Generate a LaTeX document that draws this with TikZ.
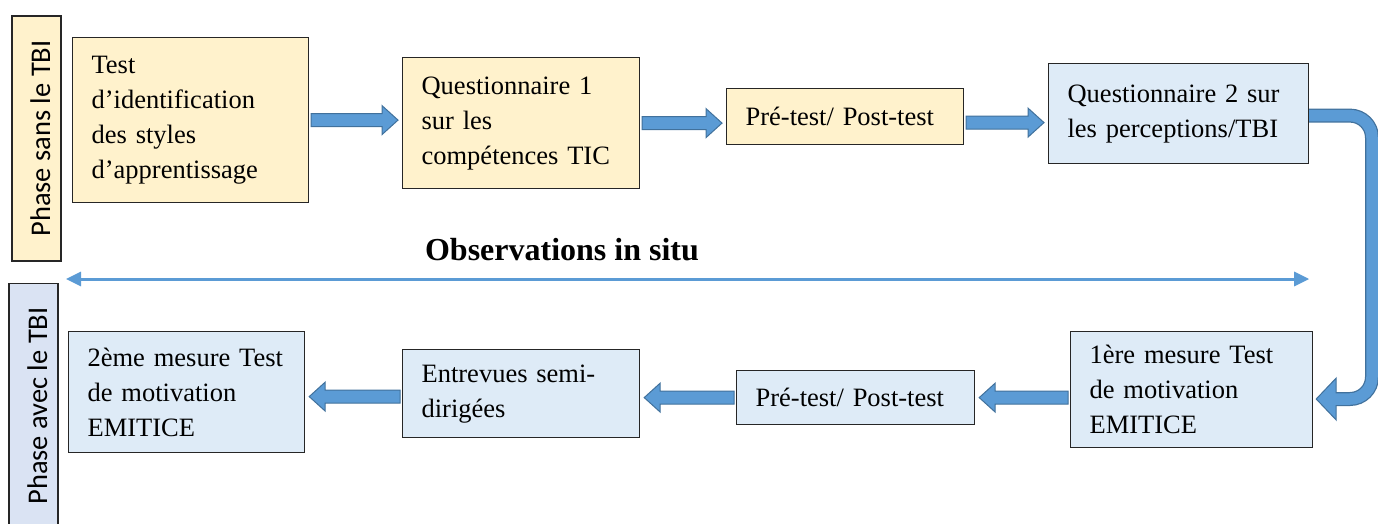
\documentclass[tikz,border=0pt]{standalone}
\usepackage{fontspec}
\setmainfont{Liberation Serif}
\newfontfamily\calibri{Carlito}
\usepackage{tikz}
\usetikzlibrary{arrows.meta}
\usetikzlibrary{calc}
\definecolor{jaune}{HTML}{FFF2CC}
\definecolor{bleupale}{HTML}{DEEBF7}
\definecolor{bleuphase}{HTML}{DAE3F3}
\definecolor{bleufleche}{HTML}{5B9BD5}
\definecolor{bordfleche}{HTML}{41719C}
\tikzset{
  boite/.style = {anchor=north west, draw=black!85, line width=1.2pt,
    align=left, inner xsep=19pt, inner ysep=0pt,
    font=\fontsize{26.5}{35}\selectfont},
  boite_j/.style = {boite, fill=jaune},% phase sans TBI
  boite_b/.style = {boite, fill=bleupale},% phase avec TBI
  phase/.style = {rotate=90, draw=black!85, line width=1.2pt, inner sep=0pt,
    minimum width=245pt, minimum height=49pt, text height=27pt, text depth=0pt,
    font=\calibri\fontsize{28.5}{30}\selectfont},
  fleche/.style = {fill=bleufleche, draw=bordfleche, line width=1pt},
  courbe_bord/.style = {bordfleche, line width=14pt, rounded corners=22pt},
  courbe_fond/.style = {bleufleche, line width=11.5pt, rounded corners=22pt},
  obs/.style = {bleufleche, line width=3pt,
    {Triangle[width=14pt,length=15pt]}-{Triangle[width=14pt,length=15pt]}}
}
% grosse fleche horizontale d'un noeud a l'autre
\newcommand{\blocfleche}[2]{%
  \draw[fleche] let \p1=(#1), \p2=(#2), \n1={sign(\x2-\x1)} in
    ({\x1+2pt*\n1},{\y1+6.5pt}) -- ({\x2-20pt*\n1},{\y1+6.5pt})
    -- ({\x2-20pt*\n1},{\y1+14.5pt}) -- ({\x2-4pt*\n1},\y1)
    -- ({\x2-20pt*\n1},{\y1-14.5pt}) -- ({\x2-20pt*\n1},{\y1-6.5pt})
    -- ({\x1+2pt*\n1},{\y1-6.5pt}) -- cycle;}

\begin{document}
\begin{tikzpicture}[x=1pt,y=-1pt]
\useasboundingbox (0,0) rectangle (1378,523);
% phases
\node (sans) [phase, fill=jaune] at (36.5,138.5) {Phase sans le TBI};
\node (avec) [phase, fill=bleuphase] at (33.5,406) {Phase avec le TBI};
% ligne du haut
\node (a) [boite_j, text width=198pt, minimum height=165pt] at (72,37)
  {Test\\d’identification\\des styles\\d’apprentissage};
\node (b) [boite_j, text width=199pt, minimum height=131pt] at (402,57)
  {Questionnaire 1\\sur les\\compétences TIC};
\node (c) [boite_j, text width=199pt, minimum height=56pt] at (726,88)
  {Pré-test/ Post-test};
\node (d) [boite_b, text width=222pt, minimum height=100pt] at (1048,63)
  {Questionnaire 2 sur\\les perceptions/TBI};
% ligne du bas
\node (e) [boite_b, text width=204pt, minimum height=116pt] at (1070,331)
  {1ère mesure Test\\de motivation\\EMITICE};
\node (f) [boite_b, text width=200pt, minimum height=54pt] at (736,370)
  {Pré-test/ Post-test};
\node (g) [boite_b, text width=199pt, minimum height=88pt] at (402,349)
  {Entrevues semi-\\dirigées};
\node (h) [boite_b, text width=198pt, minimum height=121pt] at (68,331)
  {2ème mesure Test\\de motivation\\EMITICE};
%
\node (titre) [anchor=base, font=\bfseries\fontsize{32}{38}\selectfont]
  at (562,260) {Observations in situ};
\coordinate (obs_g) at (66,279);
\draw[obs] (obs_g) -- (obs_g -| d.east);
%
\blocfleche{a.east}{b.west}
\blocfleche{b.east}{c.west}
\blocfleche{[yshift=-6pt]c.east}{d.west}
\blocfleche{[yshift=-8pt]e.west}{f.east}
\blocfleche{f.west}{g.east}
\blocfleche{[yshift=-3pt]g.west}{h.east}
% virage de d vers e
\coordinate (virage) at (1372,399);
\draw[courbe_bord] ([yshift=-2pt]d.east) -| (virage) -- ([xshift=23pt]e.east |- virage);
\draw[fleche] let \p1=([xshift=3pt]e.east |- virage) in
  (\p1) -- ++(20pt,21pt) -- ++(0,-42pt) -- cycle;
\draw[courbe_fond] ([yshift=-2pt]d.east) -| (virage) -- ([xshift=21.5pt]e.east |- virage);
\end{tikzpicture}
\end{document}
